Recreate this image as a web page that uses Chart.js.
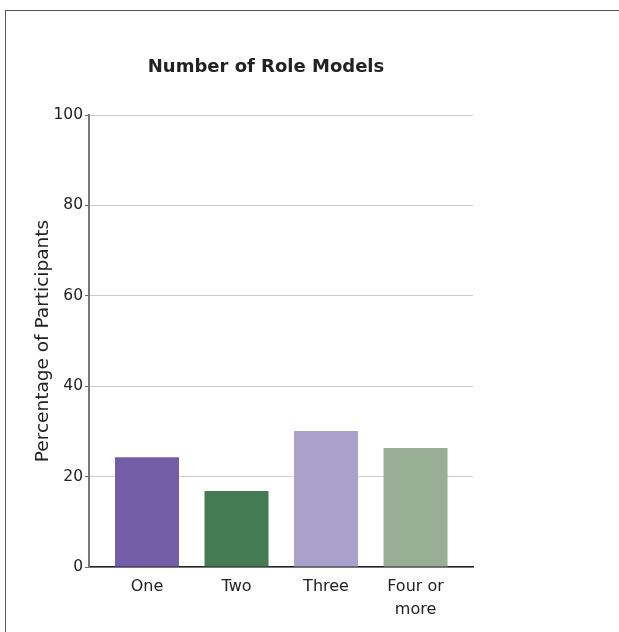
<!DOCTYPE html>
<html>
<head>
<meta charset="utf-8">
<script src="https://cdn.jsdelivr.net/npm/chart.js@4"></script>
<style>
  html, body { margin: 0; padding: 0; background: #fff; }
  #wrap { position: relative; width: 619px; height: 632px; overflow: hidden; }
  #frame { position: absolute; left: 5px; top: 10px; width: 800px; height: 800px;
           border-left: 1.5px solid #555; border-top: 1.5px solid #555; }
  #chart { position: absolute; left: 0; top: 0; }
</style>
</head>
<body>
<div id="wrap">
  <div id="frame"></div>
  <canvas id="chart" width="619" height="632"></canvas>
</div>
<script>
  // values
  const categories = ["One", "Two", "Three", ["Four or", "more"]];
  const percentages = [24.3, 16.8, 30.1, 26.3];
  const barColors = ["#725da6", "#447b53", "#aaa0cc", "#98af96"];
  const yTicks = [0, 20, 40, 60, 80, 100];

  const font = "'DejaVu Sans', Verdana, sans-serif";

  new Chart(document.getElementById("chart"), {
    type: "bar",
    data: {
      datasets: [
        {
          data: percentages.map((v, i) => ({ x: i, y: v })),
          backgroundColor: barColors,
          borderWidth: 0,
          categoryPercentage: 1,
          barPercentage: 0.715,
        },
      ],
    },
    options: {
      responsive: false,
      animation: false,
      events: [],
      layout: { padding: { left: 0, right: 87, top: 0, bottom: 0 } },
      plugins: {
        legend: { display: false },
        tooltip: { enabled: false },
        title: {
          display: true,
          text: "Number of Role Models",
          color: "#222",
          font: { family: font, size: 18, weight: "bold", lineHeight: 1.2 },
          padding: { top: 57, bottom: 36.4 },
        },
      },
      scales: {
        x: {
          type: "linear",
          offset: false,
          min: -0.648,
          max: 3.642,
          grid: { display: false, drawTicks: false, offset: false },
          border: { display: true, color: "#222", width: 1.5 },
          ticks: {
            stepSize: 1,
            includeBounds: false,
            autoSkip: false,
            maxRotation: 0,
            padding: 9,
            color: "#222",
            font: { family: font, size: 16, lineHeight: 1.4 },
            callback: (v) => (Number.isInteger(v) && categories[v] !== undefined ? categories[v] : ""),
          },
          afterFit: (s) => { s.height = 65; },
        },
        y: {
          min: 0,
          max: 100,
          afterBuildTicks: (s) => { s.ticks = yTicks.map((v) => ({ value: v })); },
          grid: { color: "#cccccc", lineWidth: 1, tickLength: 4, tickColor: "#666" },
          border: { display: true, color: "#777", width: 2 },
          ticks: {
            padding: 2,
            color: "#222",
            font: { family: font, size: 15.5 },
          },
          title: {
            display: true,
            text: "Percentage of Participants",
            color: "#222",
            font: { family: font, size: 18.5, lineHeight: 1.2 },
            padding: { top: 32, bottom: 0 },
          },
          afterFit: (s) => { s.width = 89; },
        },
        y2: {
          position: "right",
          display: true,
          grid: { display: false },
          border: { display: false },
          ticks: { display: false },
          afterFit: (s) => { s.width = 59; },
        },
      },
    },
  });
</script>
</body>
</html>
